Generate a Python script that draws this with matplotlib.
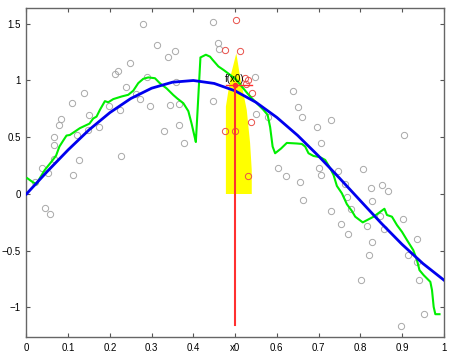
import matplotlib
matplotlib.use("Agg")
import matplotlib.pyplot as plt

plt.rcParams['font.family'] = ['Liberation Sans', 'DejaVu Sans']

# training data (grey)
px = [0.020, 0.038, 0.051, 0.065, 0.067, 0.065, 0.079, 0.082, 0.110, 0.111,
      0.125, 0.121, 0.139, 0.149, 0.148, 0.175, 0.199, 0.212, 0.219, 0.224,
      0.226, 0.044, 0.056, 0.280, 0.312, 0.248, 0.239, 0.262, 0.289, 0.271,
      0.296, 0.357, 0.339, 0.358, 0.344, 0.365, 0.366, 0.330, 0.378, 0.446,
      0.460, 0.462, 0.448, 0.547, 0.549, 0.578, 0.638, 0.651, 0.661, 0.602,
      0.623, 0.655, 0.663, 0.729, 0.697, 0.707, 0.700, 0.705, 0.747, 0.806,
      0.764, 0.768, 0.729, 0.779, 0.905, 0.754, 0.771, 0.826, 0.853, 0.866,
      0.827, 0.816, 0.857, 0.847, 0.828, 0.820, 0.801, 0.903, 0.936, 0.915,
      0.937, 0.942, 0.952, 0.898]
py = [0.109, 0.227, 0.185, 0.309, 0.432, 0.500, 0.612, 0.662, 0.806, 0.171,
      0.300, 0.520, 0.894, 0.700, 0.562, 0.594, 0.777, 1.053, 1.086, 0.741,
      0.338, -0.121, -0.174, 1.497, 1.309, 1.150, 0.947, 0.880, 1.027, 0.836,
      0.771, 1.259, 1.206, 0.991, 0.785, 0.797, 0.606, 0.559, 0.450, 1.515,
      1.327, 1.280, 0.823, 1.035, 0.706, 0.677, 0.906, 0.768, 0.677, 0.232,
      0.159, 0.103, -0.053, 0.650, 0.594, 0.453, 0.232, 0.168, 0.206, 0.218,
      0.091, -0.024, -0.147, -0.135, 0.518, -0.265, -0.356, 0.050, 0.079, 0.024,
      -0.062, -0.282, -0.306, -0.191, -0.427, -0.535, -0.756, -0.224, -0.394, -0.538,
      -0.603, -0.762, -1.059, -1.167]

# points inside the neighbourhood of x0 (red)
nx = [0.503, 0.477, 0.512, 0.524, 0.531, 0.527, 0.541, 0.539, 0.477, 0.499, 0.531]
ny = [1.536, 1.265, 1.256, 1.021, 1.006, 0.965, 0.894, 0.636, 0.557, 0.553, 0.162]

# true function (blue)
tx = [0.00, 0.05, 0.10, 0.15, 0.20, 0.25, 0.30, 0.35, 0.40, 0.45, 0.50,
      0.55, 0.60, 0.65, 0.70, 0.75, 0.80, 0.85, 0.90, 0.95, 1.00]
ty = [0.000, 0.199, 0.389, 0.565, 0.717, 0.841, 0.932, 0.985, 1.000, 0.974, 0.909,
      0.808, 0.675, 0.516, 0.335, 0.141, -0.058, -0.256, -0.443, -0.612, -0.757]

# nearest-neighbour fit (green)
gx = [0.002, 0.013, 0.024, 0.032, 0.044, 0.060, 0.071, 0.079, 0.088, 0.096,
      0.104, 0.128, 0.151, 0.160, 0.168, 0.176, 0.188, 0.196, 0.208, 0.228,
      0.244, 0.256, 0.268, 0.280, 0.292, 0.308, 0.320, 0.336, 0.352, 0.362,
      0.376, 0.388, 0.396, 0.402, 0.406, 0.417, 0.430, 0.440, 0.446, 0.460,
      0.472, 0.488, 0.503, 0.516, 0.536, 0.552, 0.568, 0.578, 0.584, 0.590,
      0.596, 0.610, 0.624, 0.648, 0.660, 0.668, 0.676, 0.688, 0.704, 0.716,
      0.728, 0.736, 0.744, 0.756, 0.768, 0.780, 0.788, 0.806, 0.832, 0.858,
      0.864, 0.876, 0.888, 0.900, 0.912, 0.927, 0.936, 0.942, 0.952, 0.968,
      0.972, 0.976, 0.980, 0.990]
gy = [0.139, 0.110, 0.085, 0.139, 0.212, 0.285, 0.338, 0.418, 0.470, 0.515,
      0.520, 0.580, 0.620, 0.665, 0.682, 0.741, 0.818, 0.808, 0.836, 0.859,
      0.874, 0.910, 0.977, 1.015, 1.027, 1.020, 0.975, 0.930, 0.872, 0.840,
      0.800, 0.730, 0.617, 0.521, 0.458, 1.203, 1.227, 1.210, 1.183, 1.124,
      1.094, 1.050, 1.006, 0.947, 0.859, 0.800, 0.741, 0.697, 0.590, 0.418,
      0.359, 0.400, 0.450, 0.445, 0.441, 0.418, 0.359, 0.335, 0.324, 0.300,
      0.227, 0.168, 0.071, 0.006, -0.090, -0.150, -0.200, -0.250, -0.200, -0.130,
      -0.185, -0.200, -0.274, -0.333, -0.406, -0.494, -0.583, -0.671, -0.715, -0.774,
      -0.847, -0.995, -1.059, -1.059]

# kernel weights around x0 (yellow)
kx = [0.478, 0.478, 0.490, 0.503, 0.512, 0.528, 0.536, 0.540, 0.540]
ky = [0.00, 0.77, 1.05, 1.24, 1.035, 0.74, 0.45, 0.21, 0.00]

x0 = 0.5
fx0 = 0.962
xticks = [0, 0.1, 0.2, 0.3, 0.4, 0.5, 0.6, 0.7, 0.8, 0.9, 1]
xlabels = ['0', '0.1', '0.2', '0.3', '0.4', 'x0', '0.6', '0.7', '0.8', '0.9', '1']
yticks = [-1, -0.5, 0, 0.5, 1, 1.5]
ylabels = ['\u22121', '\u22120.5', '0', '0.5', '1', '1.5']

fig = plt.figure(figsize=(4.56, 3.57), dpi=100)
ax = fig.add_axes([0.058, 0.056, 0.915, 0.922])

ax.fill(kx, ky, color='#ffff00', lw=0, zorder=1)
ax.plot(px, py, 'o', mfc='none', mec='#a8a8a8', ms=4.5, mew=0.7, zorder=2)
ax.plot(nx, ny, 'o', mfc='none', mec='#e8504a', ms=4.5, mew=0.7, zorder=2)
ax.plot(gx, gy, color='#00ee00', lw=1.5, zorder=3)
ax.plot(tx, ty, color='#0000ee', lw=2, zorder=4)
ax.plot([x0, x0], [-1.155, fx0], color='#ff3030', lw=1.5, zorder=5)
ax.plot([kx[0], kx[-1]], [fx0, fx0], color='#ff3030', lw=1, zorder=5)
ax.plot([x0], [fx0], 'o', color='#ff3030', ms=3, zorder=6)
ax.text(x0, fx0 + 0.01, 'f(x0)', ha='center', va='bottom', fontsize=7, zorder=7)

ax.set_xlim(0, 1)
ax.set_ylim(-1.26, 1.64)
ax.set_xticks(xticks)
ax.set_xticklabels(xlabels)
ax.set_yticks(yticks)
ax.set_yticklabels(ylabels)
ax.tick_params(direction='in', top=True, right=True, labelsize=7, length=3,
               color='#555555', pad=4)
for s in ax.spines.values():
    s.set_color('#666666')
    s.set_linewidth(1)

fig.savefig('out.png', dpi=100)
